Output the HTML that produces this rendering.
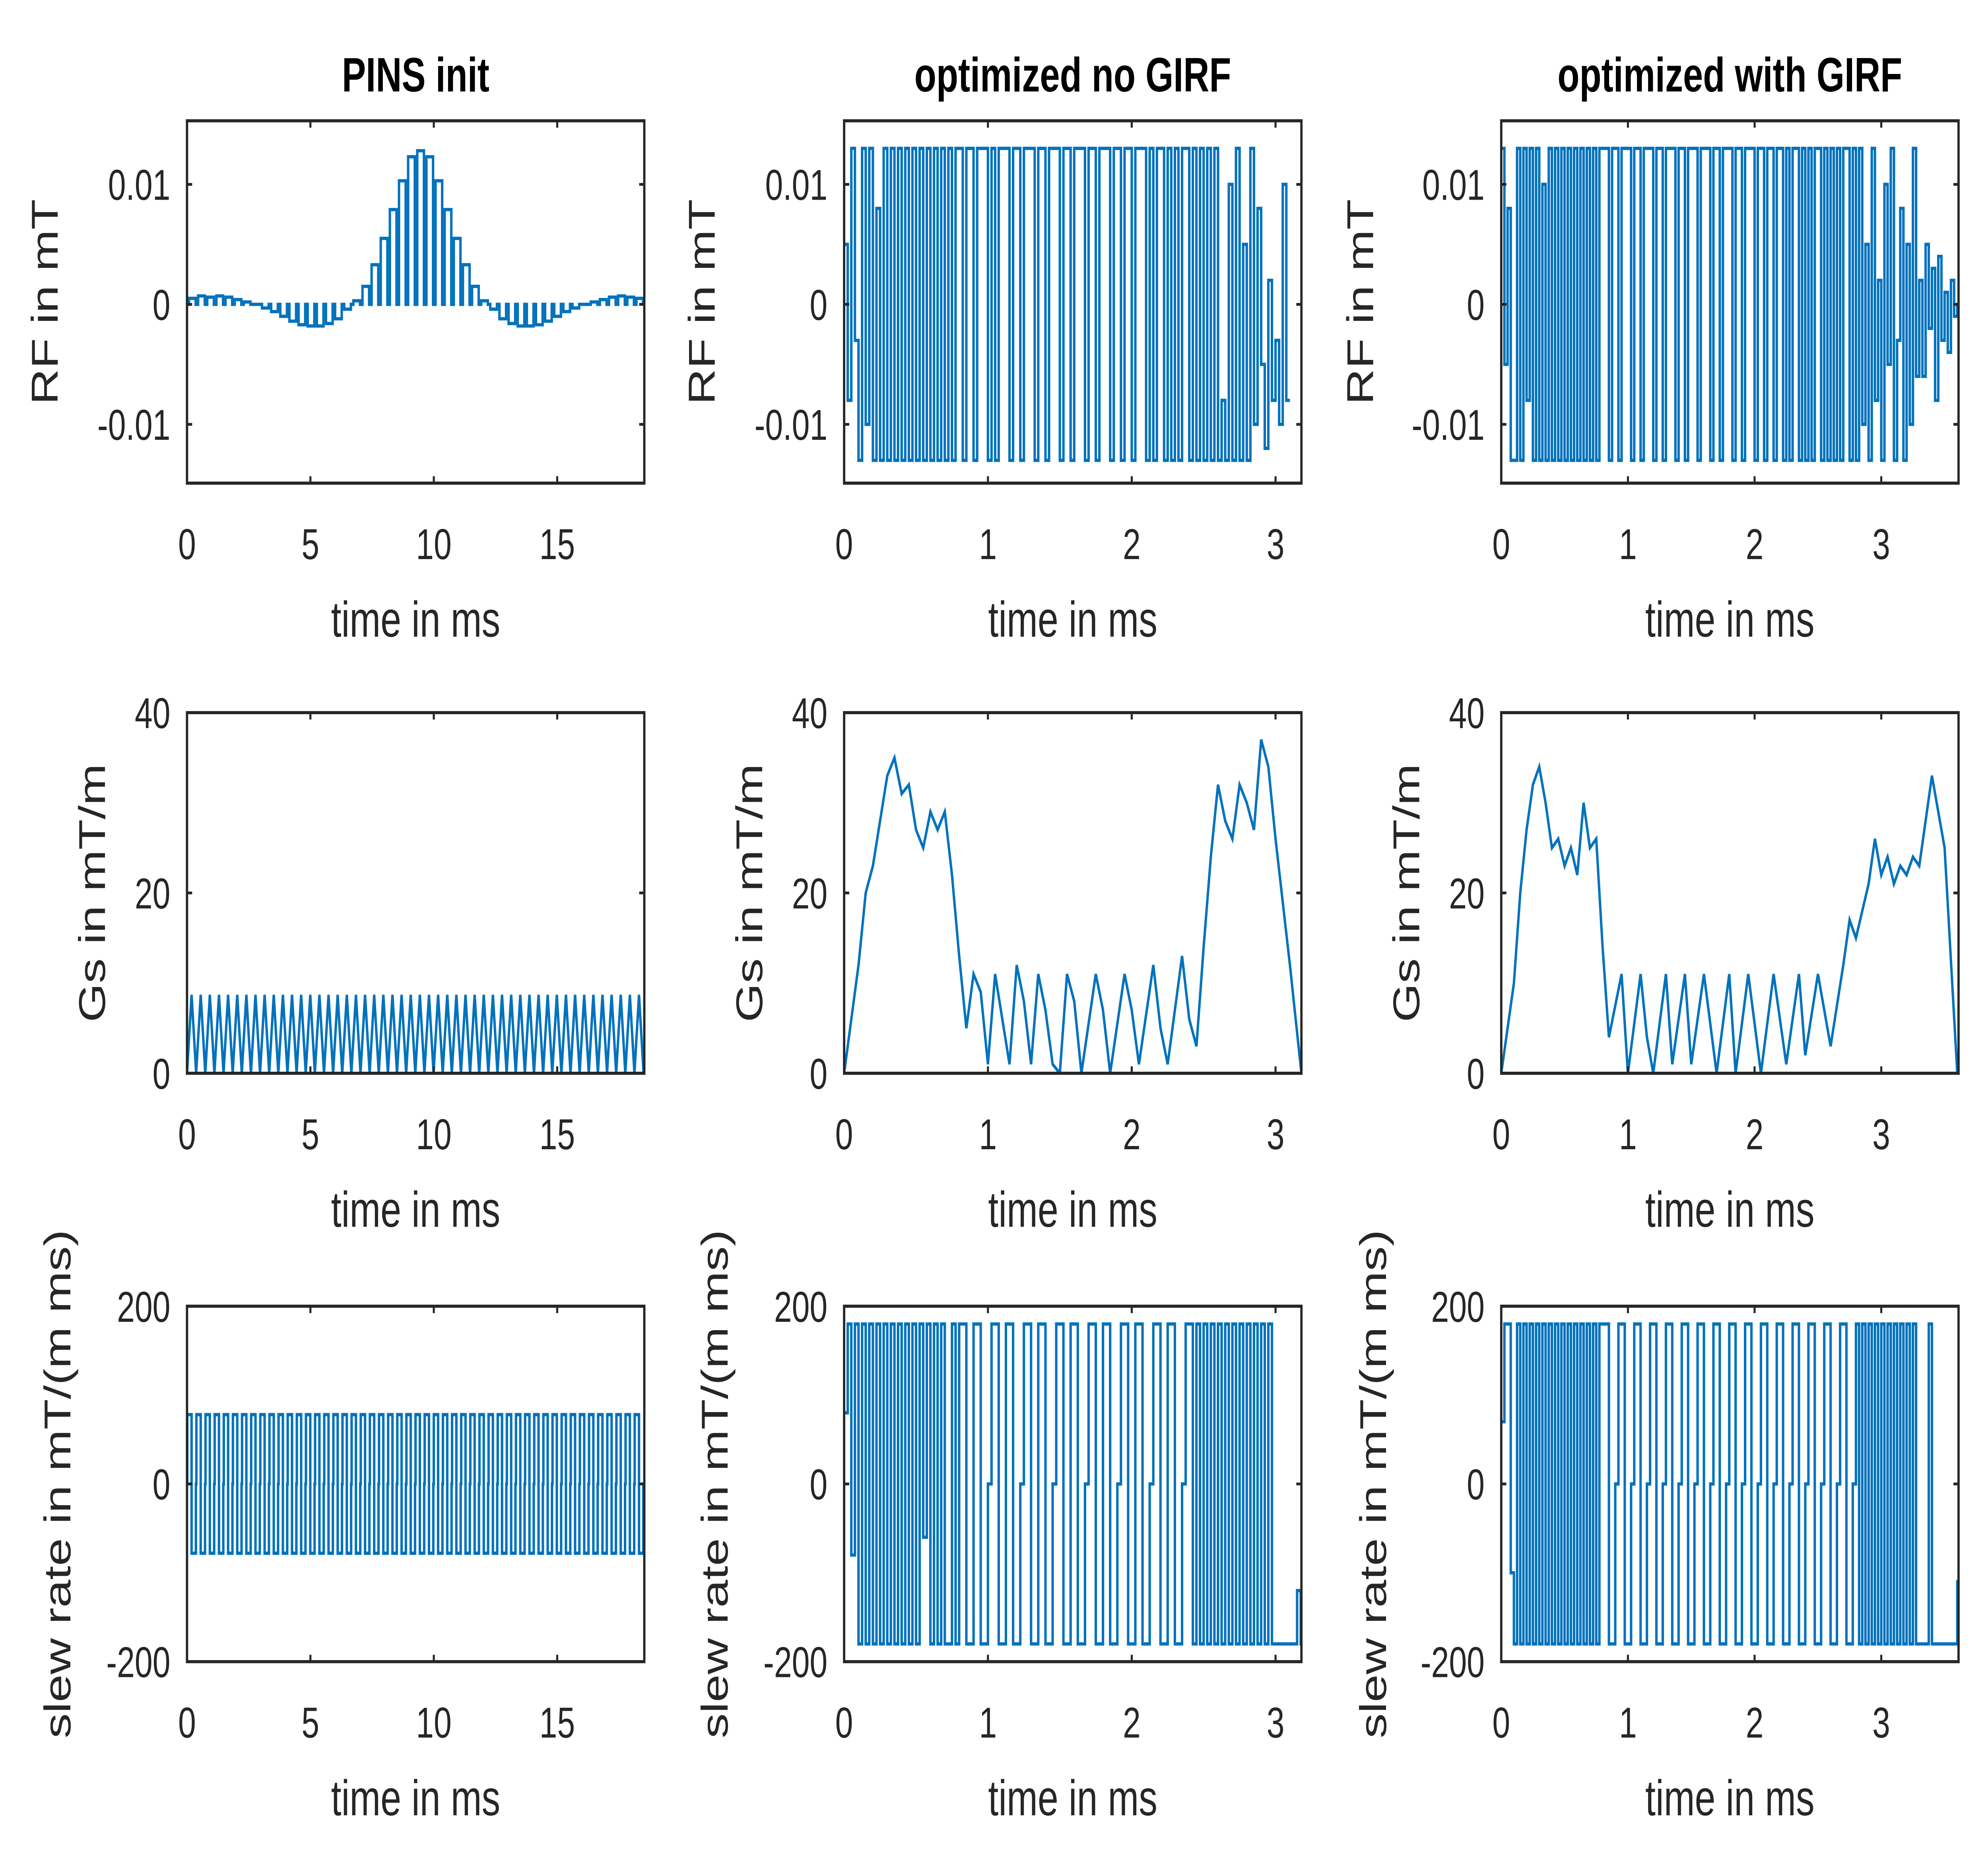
<!DOCTYPE html>
<html><head><meta charset="utf-8"><style>
html,body{margin:0;padding:0;background:#fff;width:100vw;height:100vh;overflow:hidden;}
svg{display:block;width:100vw;height:100vh;}
text{font-family:"Liberation Sans",Arial,sans-serif;fill:#262626;}
</style></head><body>
<svg id="fig" xmlns="http://www.w3.org/2000/svg" viewBox="0 0 1552 1082" preserveAspectRatio="none">
<rect width="1552" height="1082" fill="#fff"/>
<g id="layer"></g>
</svg>
<script>
// ---------- data ----------
const pinsPeriod = 0.37;
const pinsRF = [0.5,0.7,0.6,0.7,0.6,0.4,0.2,0,-0.3,-0.6,-1.0,-1.4,-1.7,-1.8,-1.8,-1.6,-1.2,-0.4,0.3,1.5,3.3,5.5,7.9,10.3,12.3,12.8,12.3,10.3,7.9,5.5,3.3,1.5,0.3,-0.4,-1.2,-1.6,-1.8,-1.8,-1.7,-1.4,-1.0,-0.6,-0.3,0,0.2,0.4,0.6,0.7,0.6,0.5];
const pinsBlip = [8.7,8.7,8.7,8.7,8.7,8.7,8.7,8.7,8.7,8.7,8.7,8.7,8.7,8.7,8.7,8.7,8.7,8.7,8.7,8.7,8.7,8.7,8.7,8.7,8.7,8.7,8.7,8.7,8.7,8.7,8.7,8.7,8.7,8.7,8.7,8.7,8.7,8.7,8.7,8.7,8.7,8.7,8.7,8.7,8.7,8.7,8.7,8.7,8.7,8.7];
const pinsSlew = [78,78,78,78,78,78,78,78,78,78,78,78,78,78,78,78,78,78,78,78,78,78,78,78,78,78,78,78,78,78,78,78,78,78,78,78,78,78,78,78,78,78,78,78,78,78,78,78,78,78];

const optDt = 0.025;
const rfNoGirf = [5,-8,13,-3,
 -13,13,-10,13,-13,8,-13,13,
 -13,13,-13,13,-13,13,-13,13,-13,13,-13,13,-13,13,-13,13,-13,13,-13,13,
 13,-13,13,13,-13,13,13,13,-13,13,-13,13,13,13,-13,13,13,-13,13,13,13,-13,13,13,-13,13,13,13,-13,13,13,-13,13,13,13,-13,13,13,-13,13,13,13,-13,13,13,-13,13,13,-13,13,13,13,-13,13,-13,13,13,-13,13,-13,13,-13,13,13,-13,13,-13,13,
 -13,13,-13,13,-13,-8,-13,10,-13,13,-13,5,-13,13,-10,8,
 -5,-12,2,-8,-3,-10,10,-8];
const rfGirf = [13,-5,8,-13,
 -13,13,-13,13,-8,13,-13,13,-13,10,-13,13,-13,13,-13,13,-13,13,-13,13,-13,13,-13,13,-13,13,-13,13,
 13,13,-13,13,13,-13,13,13,13,-13,13,13,-13,13,13,13,-13,13,13,-13,13,13,13,-13,13,13,-13,13,13,13,-13,13,13,13,-13,13,13,-13,13,13,13,-13,13,13,-13,13,13,13,-13,13,13,-13,13,13,-13,13,13,-13,13,-13,13,13,-13,13,-13,13,-13,13,13,-13,13,-13,13,-13,13,-13,13,13,-13,13,
 -13,13,-10,5,-13,13,-8,2,-13,10,-5,13,-13,-3,8,-13,5,-10,13,-6,
 2,-6,5,-2,3,-8,4,-3,1,-4,2,-1,0];

const gsNoGirfT = [0,0.1,0.15,0.2,0.25,0.3,0.35,0.4,0.45,0.5,0.55,0.6,0.65,0.7,0.75,0.8,0.85,0.9,0.95,1.0,1.05,1.1,1.15,1.2,1.25,1.3,1.35,1.4,1.45,1.5,1.55,1.6,1.65,1.75,1.8,1.85,1.95,2.0,2.05,2.15,2.2,2.25,2.35,2.4,2.45,2.5,2.55,2.6,2.65,2.7,2.75,2.8,2.85,2.9,2.95,3.0,3.1,3.18];
const gsNoGirfV = [0,12,20,23,28,33,35,31,32,27,25,29,27,29,22,13,5,11,9,1,11,6,1,12,8,1,11,7,1,0,11,8,0,11,7,0,11,7,1,12,5,1,13,6,3,14,24,32,28,26,32,30,27,37,34,26,12,0];
const gsGirfT = [0,0.1,0.15,0.2,0.25,0.3,0.35,0.4,0.45,0.5,0.55,0.6,0.65,0.7,0.75,0.8,0.85,0.95,1.0,1.1,1.15,1.2,1.3,1.35,1.45,1.5,1.6,1.7,1.8,1.85,1.95,2.05,2.15,2.25,2.35,2.4,2.5,2.6,2.7,2.75,2.8,2.9,2.95,3.0,3.05,3.1,3.15,3.2,3.25,3.3,3.35,3.4,3.45,3.5,3.6];
const gsGirfV = [0,10,20,27,32,34,30,25,26,23,25,22,30,25,26,14,4,11,0,11,4,0,11,1,11,1,11,0,11,0,11,0,11,1,11,2,11,3,12,17,15,21,26,22,24,21,23,22,24,23,28,33,29,25,0];

const slewNoGirf = [80,180,-80,180,-180,180,-180,180,-180,180,-180,180,
 -180,180,-180,180,-180,180,-180,180,-180,180,-60,180,-180,180,-180,180,-180,-180,180,-180,
 180,180,-180,-180,180,180,-180,-180,0,180,180,-180,-180,180,180,-180,-180,0,180,180,-180,-180,180,180,-180,-180,0,180,180,-180,-180,180,180,-180,-180,0,180,180,-180,-180,180,180,-180,-180,0,180,180,-180,-180,180,180,-180,-180,0,180,180,-180,-180,180,180,-180,-180,0,180,180,-180,180,-180,180,-180,180,-180,
 180,-180,180,-180,180,-180,180,-180,180,-180,180,-180,180,-180,180,-180,
 -180,-180,-180,-180,-180,-180,-120,-180];
const slewGirf = [70,180,180,-100,
 -180,180,-180,180,-180,180,-180,180,-180,180,-180,180,-180,180,-180,180,-180,180,-180,180,-180,180,-180,180,-180,180,-180,180,
 180,180,-180,-180,0,180,180,-180,-180,0,180,180,-180,-180,0,180,180,-180,-180,0,180,180,-180,-180,0,180,180,-180,-180,0,180,180,-180,-180,0,180,180,-180,-180,0,180,180,-180,-180,0,180,180,-180,-180,0,180,180,-180,-180,0,180,180,-180,-180,0,180,180,-180,-180,0,180,180,-180,-180,0,180,180,-180,-180,0,180,180,-180,-180,0,
 180,-180,180,-180,180,-180,180,-180,180,-180,180,-180,180,-180,180,-180,180,-180,180,-180,
 -180,-180,-180,180,-180,-180,-180,-180,-180,-180,-180,-180,-110];

const colTitles = ["PINS init","optimized no GIRF","optimized with GIRF"];
const xTicksCol = [[0,5,10,15],[0,1,2,3],[0,1,2,3]];
const xMaxCol = [18.53,3.18,3.61];
const rfTicks = [0.01,0,-0.01]; const rfTickLabels = ["0.01","0","-0.01"];
const gsTicks = [0,20,40]; const gsTickLabels = ["0","20","40"];
const slewTicks = [-200,0,200]; const slewTickLabels = ["-200","0","200"];

// ---------- layout ----------
const NS="http://www.w3.org/2000/svg";
const layer=document.getElementById('layer');
const colX=[146,659,1172], W=357;
const rowY=[[70,280],[413,622],[757,963]];
const rowLim=[[-0.0149,0.0153],[0,40],[-200,200]];
const rowLabels=["RF in mT","Gs in mT/m","slew rate in mT/(m ms)"];
const rowLabelX=[[35,548,1062],[72,585,1098],[45,558,1072]];
const rowTicks=[[rfTicks,rfTickLabels],[gsTicks,gsTickLabels],[slewTicks,slewTickLabels]];
const rowNames=["rf","gs","slew"];

function mk(tag,attrs,parent){const e=document.createElementNS(NS,tag);for(const k in attrs)e.setAttribute(k,attrs[k]);(parent||layer).appendChild(e);return e;}

function pinsSeries(row){
  const pts=[];const P=pinsPeriod;
  for(let i=0;i<pinsRF.length;i++){
    const t0=i*P;
    if(row===0){const a=pinsRF[i]*1e-3;pts.push([t0,0],[t0+0.08,0],[t0+0.08,a],[t0+P-0.02,a],[t0+P-0.02,0]);}
    else if(row===1){pts.push([t0,0],[t0+P/2,pinsBlip[i]],[t0+P,0]);}
    else {const s=pinsSlew[i];pts.push([t0,0],[t0+0.01,0],[t0+0.01,s],[t0+P/2,s],[t0+P/2,-s],[t0+P-0.01,-s],[t0+P-0.01,0],[t0+P,0]);}
  }
  return pts;
}
function stepSeries(arr,scale){const pts=[];for(let i=0;i<arr.length;i++){pts.push([i*optDt,arr[i]*scale],[(i+1)*optDt,arr[i]*scale]);}return pts;}
function lineSeries(ts,vs){return ts.map((t,i)=>[t,vs[i]]);}
const series=[
 [pinsSeries(0),stepSeries(rfNoGirf,1e-3),stepSeries(rfGirf,1e-3)],
 [pinsSeries(1),lineSeries(gsNoGirfT,gsNoGirfV),lineSeries(gsGirfT,gsGirfV)],
 [pinsSeries(2),stepSeries(slewNoGirf,1),stepSeries(slewGirf,1)]
];

for(let c=0;c<3;c++){
  const t=mk('text',{x:colX[c]+W/2,y:53,'text-anchor':'middle','font-size':28,'font-weight':'bold'});
  
  
  t.style.fill='#000';t.textContent=colTitles[c];
}
for(let r=0;r<3;r++)for(let c=0;c<3;c++){
  const x0=colX[c],y0=rowY[r][0],y1=rowY[r][1],h=y1-y0;
  const [ymin,ymax]=rowLim[r];const xmax=xMaxCol[c];
  const sx=v=>x0+v/xmax*W, sy=v=>y1-(v-ymin)/(ymax-ymin)*h;
  const g=mk('g',{});
  
  
  const cid='clip'+r+c;
  const cp=mk('clipPath',{id:cid},g);mk('rect',{x:x0,y:y0,width:W,height:h},cp);
  const pts=series[r][c];
  let d='';pts.forEach((p,i)=>{d+=(i?'L':'M')+sx(Math.min(p[0],xmax)).toFixed(2)+','+sy(p[1]).toFixed(2);});
  const path=mk('path',{d:d,fill:'none',stroke:'#0072BD','stroke-width':1.9,'stroke-linejoin':'miter','clip-path':'url(#'+cid+')'},g);
  
  
  const box=mk('rect',{x:x0,y:y0,width:W,height:h,fill:'none',stroke:'#262626','stroke-width':1.8},g);
  
  
  xTicksCol[c].forEach(v=>{
    const X=sx(v);
    mk('line',{x1:X,y1:y1,x2:X,y2:y1-4,stroke:'#262626','stroke-width':1.6},g);
    mk('line',{x1:X,y1:y0,x2:X,y2:y0+4,stroke:'#262626','stroke-width':1.6},g);
    const tl=mk('text',{x:X,y:y1+44,'text-anchor':'middle','font-size':25},g);
    
    
    tl.textContent=String(v);
  });
  const [yt,ytl]=rowTicks[r];
  yt.forEach((v,i)=>{
    const Y=sy(v);
    mk('line',{x1:x0,y1:Y,x2:x0+4,y2:Y,stroke:'#262626','stroke-width':1.6},g);
    mk('line',{x1:x0+W,y1:Y,x2:x0+W-4,y2:Y,stroke:'#262626','stroke-width':1.6},g);
    const tl=mk('text',{x:x0-13,y:Y+9,'text-anchor':'end','font-size':25},g);
    
    
    tl.textContent=ytl[i];
  });
  const xl=mk('text',{x:x0+W/2,y:y1+89,'text-anchor':'middle','font-size':29},g);
  
  
  xl.textContent='time in ms';
  const lx=rowLabelX[r][c]+10,ly=(y0+y1)/2;
  const yl=mk('text',{x:lx,y:ly,'text-anchor':'middle','font-size':29,transform:'rotate(-90 '+lx+' '+ly+')'},g);
  
  
  yl.textContent=rowLabels[r];
}
</script>
</body></html>
